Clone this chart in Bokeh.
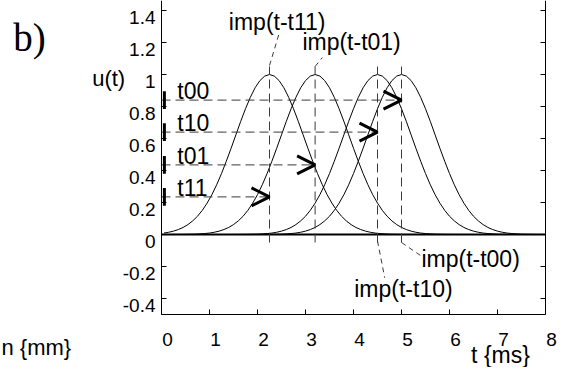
from bokeh.plotting import figure
from bokeh.models import (ColumnDataSource, LabelSet, Label, Arrow, OpenHead,
                          LinearAxis, FixedTicker, Range1d)
from bokeh.core.properties import value
from bokeh.embed import file_html
from bokeh.resources import INLINE

# ---------------- data ----------------
pulse_names = ["imp(t-t11)", "imp(t-t01)", "imp(t-t10)", "imp(t-t00)"]
peak_times = [2.25, 3.2, 4.5, 5.0]          # ms
sample_names = ["t11", "t01", "t10", "t00"]
sample_levels = [0.235, 0.435, 0.64, 0.84]  # u(t)

# one-sided pulse profile, offsets 0.0 .. 3.0 ms
pulse_offsets = [i / 10 for i in range(31)]
pulse_profile = [1.000, 0.990, 0.962, 0.917, 0.857, 0.786, 0.707, 0.623,
                 0.539, 0.458, 0.381, 0.311, 0.249, 0.196, 0.151, 0.114,
                 0.085, 0.062, 0.044, 0.031, 0.021, 0.014, 0.009, 0.006,
                 0.004, 0.002, 0.0015, 0.0009, 0.0005, 0.0003, 0.0002]

x_ticks = [0, 1, 2, 3, 4, 5, 6, 7, 8]
x_tick_labels = ["0", "1", "2", "3", "4", "5", "6", "7", "8"]
y_ticks = [-0.4, -0.2, 0, 0.2, 0.4, 0.6, 0.8, 1.0, 1.2, 1.4]
y_tick_labels = ["-0.4", "-0.2", "0", "0.2", "0.4", "0.6", "0.8", "1", "1.2", "1.4"]

FONT = "Liberation Sans"
SERIF = "Liberation Serif"
DASH_GRAY = "#3a3a3a"

# ---------------- geometry ----------------
W, H = 557, 367
FL, PXX = 161, 48.0        # frame left (px) and px per ms
Y0, PXY = 234, 160.0       # y pixel of u=0, px per unit
X_LO, X_HI = -FL / PXX, (W - FL) / PXX
Y_HI, Y_LO = Y0 / PXY, (Y0 - H) / PXY
Y_AX_LO, Y_AX_HI = -0.5, Y_HI
DX_LAB = 6 / PXX           # tick labels sit a little right ...
DY_LAB = 7 / PXY           # ... and a little below their ticks

p = figure(width=W, height=H, x_range=Range1d(X_LO, X_HI), y_range=Range1d(Y_LO, Y_HI),
           output_backend="svg", toolbar_location=None,
           x_axis_location=None, y_axis_location=None,
           min_border=0, min_border_left=0, min_border_right=0,
           min_border_top=0, min_border_bottom=0)
p.extra_x_ranges = {"xlab": Range1d(X_LO - DX_LAB, X_HI - DX_LAB)}
p.extra_y_ranges = {"ylab": Range1d(Y_LO + DY_LAB, Y_HI + DY_LAB)}
p.grid.visible = False
p.outline_line_color = None
p.background_fill_color = "white"
p.border_fill_color = "white"


def tick_axis(**kw):
    return LinearAxis(major_tick_in=5, major_tick_out=0, minor_tick_in=0, minor_tick_out=0,
                      axis_line_color="black", major_tick_line_color="black",
                      major_label_standoff=0, **kw)


def label_axis(**kw):
    return LinearAxis(major_tick_in=0, major_tick_out=0, minor_tick_in=0, minor_tick_out=0,
                      axis_line_color=None, major_tick_line_color=None,
                      major_label_text_font=FONT, major_label_text_color="black", **kw)


# axes with ticks (labels blank)
p.add_layout(tick_axis(ticker=FixedTicker(ticks=x_ticks), fixed_location=Y_AX_LO,
                       bounds=(x_ticks[0], x_ticks[-1]),
                       major_label_overrides={t: "" for t in x_ticks}), "below")
p.add_layout(tick_axis(ticker=FixedTicker(ticks=y_ticks), fixed_location=x_ticks[0],
                       bounds=(Y_AX_LO, Y_AX_HI),
                       major_label_overrides={t: "" for t in y_ticks}), "left")
p.add_layout(tick_axis(ticker=FixedTicker(ticks=y_ticks), fixed_location=x_ticks[-1],
                       bounds=(Y_AX_LO, Y_AX_HI),
                       major_label_overrides={t: "" for t in y_ticks}), "right")

# axes carrying the tick labels (offset as in the reference)
p.add_layout(label_axis(ticker=FixedTicker(ticks=x_ticks), x_range_name="xlab",
                        fixed_location=Y_AX_LO, bounds=(x_ticks[0], x_ticks[-1]),
                        major_label_standoff=18, major_label_text_font_size="19px",
                        major_label_overrides={t: s for t, s in zip(x_ticks, x_tick_labels)}),
             "below")
p.add_layout(label_axis(ticker=FixedTicker(ticks=y_ticks), y_range_name="ylab",
                        fixed_location=x_ticks[0], bounds=(Y_AX_LO - 0.1, Y_AX_HI + 0.1),
                        major_label_standoff=6, major_label_text_font_size="19px",
                        major_label_overrides={t: s for t, s in zip(y_ticks, y_tick_labels)}),
             "left")

# zero baseline
p.segment(x0=x_ticks[0], y0=0, x1=x_ticks[-1], y1=0, line_color="black", line_width=2)

# pulses (kept inside the axes box)
for pk in peak_times:
    xs = [pk - o for o in reversed(pulse_offsets)] + [pk + o for o in pulse_offsets[1:]]
    ys = list(reversed(pulse_profile)) + pulse_profile[1:]
    keep = [(x, y) for x, y in zip(xs, ys) if x_ticks[0] <= x <= x_ticks[-1]]
    p.line([k[0] for k in keep], [k[1] for k in keep], line_color="black", line_width=1)

# sample construction lines
n = len(peak_times)
src = ColumnDataSource(dict(
    x0=[x_ticks[0]] * n, pk=peak_times, lev=sample_levels,
    lo=[-0.05] * n, hi=[1.05] * n,
    bar0=[v - 0.055 for v in sample_levels], bar1=[v + 0.055 for v in sample_levels],
    barx=[0.06] * n, astart=[t - 0.3 for t in peak_times],
))
p.segment(x0="x0", y0="lev", x1="pk", y1="lev", source=src,
          line_color=DASH_GRAY, line_width=1, line_dash="9 5")
p.segment(x0="pk", y0="lo", x1="pk", y1="hi", source=src,
          line_color=DASH_GRAY, line_width=1, line_dash="9 5")
p.segment(x0="barx", y0="bar0", x1="barx", y1="bar1", source=src,
          line_color="black", line_width=3)
p.add_layout(Arrow(end=OpenHead(size=18, line_width=3, line_color="black"),
                   x_start="astart", y_start="lev", x_end="pk", y_end="lev",
                   source=src, line_alpha=0))

# labels of the sample levels
tl_src = ColumnDataSource(dict(x=[0.33] * n, y=[v + 0.057 for v in sample_levels], text=sample_names))
p.add_layout(LabelSet(x="x", y="y", text="text", source=tl_src, text_font=value(FONT),
                      text_color="black", text_font_size="23px",
                      text_baseline="middle", text_align="left"))

# pulse labels with dashed leader lines
lab_x = [2.41, 3.96, 5.04, 6.44]
lab_y = [1.328, 1.206, -0.3375, -0.156]
lead_from_y = [1.056, 1.05, -0.04, -0.05]
lead_to_x = [2.45, 3.35, 4.65, 5.39]
lead_to_y = [1.256, 1.106, -0.27, -0.13]
lsrc = ColumnDataSource(dict(x=lab_x, y=lab_y, text=pulse_names, pk=peak_times,
                             fy=lead_from_y, tx=lead_to_x, ty=lead_to_y))
p.segment(x0="pk", y0="fy", x1="tx", y1="ty", source=lsrc,
          line_color=DASH_GRAY, line_width=1, line_dash="5 4")
p.add_layout(LabelSet(x="x", y="y", text="text", source=lsrc, text_font=value(FONT),
                      text_color="black", text_font_size="23px",
                      text_baseline="middle", text_align="center"))

# axis titles and panel letter
p.add_layout(Label(x=(91.7 - FL) / PXX, y=(Y0 - 77.5) / PXY, text="u(t)", text_font=FONT,
                   text_color="black", text_font_size="22px",
                   text_baseline="middle", text_align="left"))
p.add_layout(Label(x=(500 - FL) / PXX, y=(Y0 - 354) / PXY, text="t {ms}", text_font=FONT,
                   text_color="black", text_font_size="23px",
                   text_baseline="middle", text_align="center"))
p.add_layout(Label(x=(1 - FL) / PXX, y=(Y0 - 347) / PXY, text="n {mm}", text_font=FONT,
                   text_color="black", text_font_size="22px",
                   text_baseline="middle", text_align="left"))
p.add_layout(Label(x=(12.7 - FL) / PXX, y=(Y0 - 36.7) / PXY, text="b)",
                   text_font=SERIF, text_color="black", text_font_size="39px",
                   text_baseline="alphabetic", text_align="left"))

open("out.html", "w").write(file_html(p, INLINE))
